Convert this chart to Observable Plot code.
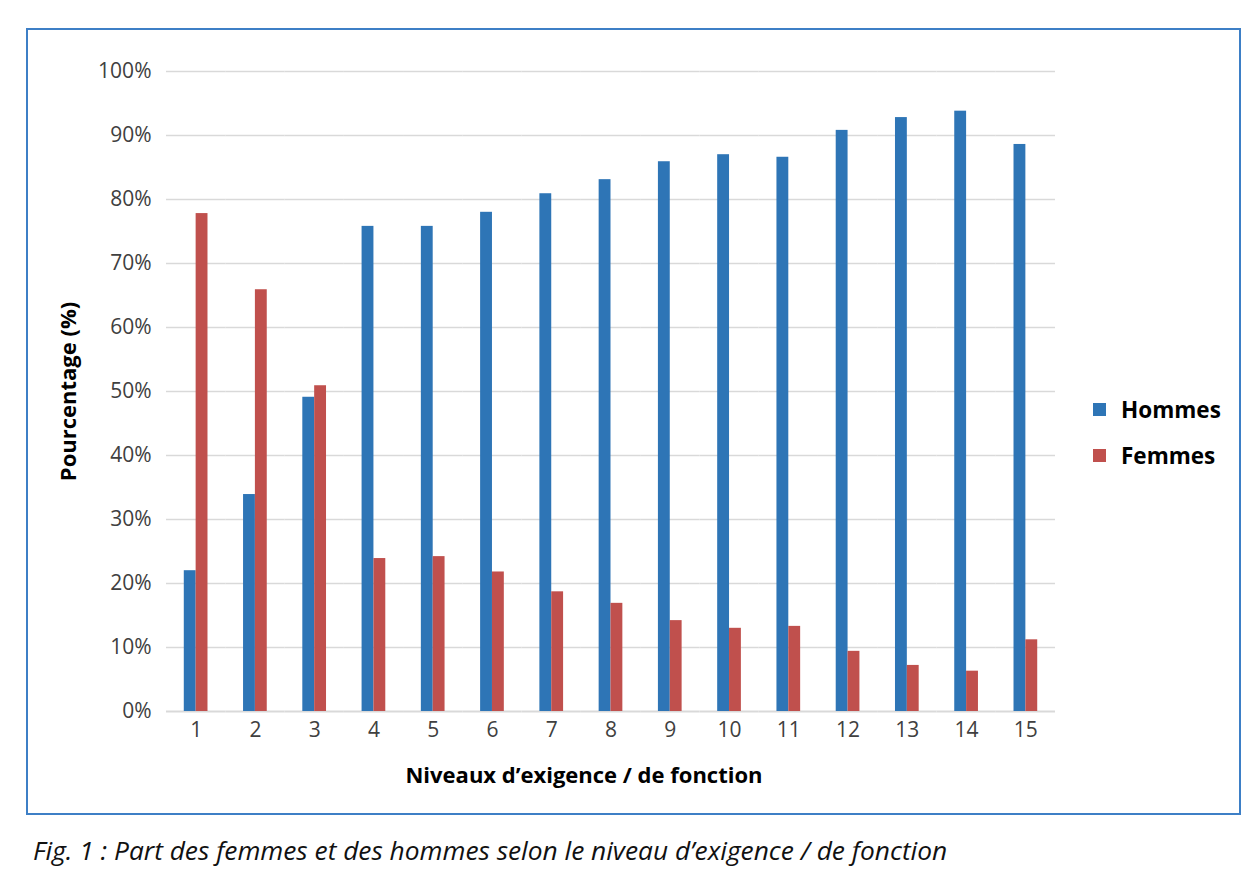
<!DOCTYPE html>
<html>
<head>
<meta charset="utf-8">
<script src="https://cdn.jsdelivr.net/npm/d3@7"></script>
<script src="https://cdn.jsdelivr.net/npm/@observablehq/plot@0.6"></script>
<style>
  html, body { margin: 0; padding: 0; background: #fff; width: 1254px; height: 875px; overflow: hidden; }
  body { position: relative; font-family: "Open Sans", "Noto Sans", sans-serif; }
  #frame { position: absolute; left: 26px; top: 28px; width: 1211px; height: 783px; border: 2px solid #3d7fc6; }
  #chart { position: absolute; left: 40px; top: 40px; }
  #legend { position: absolute; left: 1093px; top: 386px; font-size: 22.5px; font-weight: bold; color: #000; }
  #legend .item { display: flex; align-items: center; height: 46px; }
  #legend .sw { width: 13px; height: 13px; margin-right: 15px; }
  #caption { position: absolute; left: 33px; top: 832px; font-size: 26.3px; font-style: italic; color: #111; font-family: "Open Sans", "Noto Sans", sans-serif; letter-spacing: 0; }
</style>
</head>
<body>
<div id="frame"></div>
<div id="chart"></div>
<div id="legend"></div>
<div id="caption">Fig. 1 : Part des femmes et des hommes selon le niveau d’exigence / de fonction</div>
<script>
const levels = [1, 2, 3, 4, 5, 6, 7, 8, 9, 10, 11, 12, 13, 14, 15];
const hommes = [22.0, 33.9, 49.1, 75.8, 75.8, 78.0, 80.9, 83.1, 85.9, 87.0, 86.6, 90.8, 92.8, 93.8, 88.6];
const femmes = [77.8, 65.9, 50.9, 23.9, 24.2, 21.8, 18.7, 16.9, 14.2, 13.0, 13.3, 9.4, 7.2, 6.3, 11.2];
const series = ["Hommes", "Femmes"];
const colors = ["#2E75B6", "#C0504D"];
const yTicks = [0, 10, 20, 30, 40, 50, 60, 70, 80, 90, 100];
const yTitle = "Pourcentage (%)";
const xTitle = "Niveaux d’exigence / de fonction";

const rows = levels.flatMap((l, i) => [
  {level: l, sex: series[0], value: hommes[i]},
  {level: l, sex: series[1], value: femmes[i]}
]);

const chart = Plot.plot({
  width: 1040,
  height: 760,
  marginTop: 31,
  marginBottom: 89,
  marginLeft: 126,
  marginRight: 25,
  style: {fontFamily: "'Open Sans', 'Noto Sans', sans-serif", background: "white"},
  fx: {domain: levels, padding: 0, round: false},
  x: {domain: series, paddingInner: 0, paddingOuter: 1.5, round: false, axis: null},
  y: {domain: [0, 100]},
  color: {domain: series, range: colors},
  marks: [
    Plot.ruleY(yTicks.filter(d => d > 0), {stroke: "#d9d9d9", strokeWidth: 1.5}),
    Plot.ruleY([0], {stroke: "#d9d9d9", strokeWidth: 2}),
    Plot.barY(rows, {fx: "level", x: "sex", y: "value", fill: "sex"}),
    Plot.axisY({ticks: yTicks, tickFormat: d => d + "%", tickSize: 0, tickPadding: 15, fontSize: 21, fill: "#404040", label: null}),
    Plot.axisFx({anchor: "bottom", tickSize: 0, tickPadding: 11, fontSize: 21, fill: "#404040", label: null}),
    Plot.text([yTitle], {frameAnchor: "left", textAnchor: "middle", rotate: -90, dx: -98, facetAnchor: "left", fontSize: 22, fontWeight: "bold", fill: "#000"}),
    Plot.text([{level: 8, t: xTitle}], {fx: "level", text: "t", frameAnchor: "bottom", dx: -27, dy: 71, fontSize: 22, fontWeight: "bold", fill: "#000"})
  ]
});
document.getElementById("chart").appendChild(chart);

const legend = document.getElementById("legend");
series.forEach((s, i) => {
  const item = document.createElement("div");
  item.className = "item";
  item.innerHTML = `<span class="sw" style="background:${colors[i]}"></span><span>${s}</span>`;
  legend.appendChild(item);
});
</script>
</body>
</html>
